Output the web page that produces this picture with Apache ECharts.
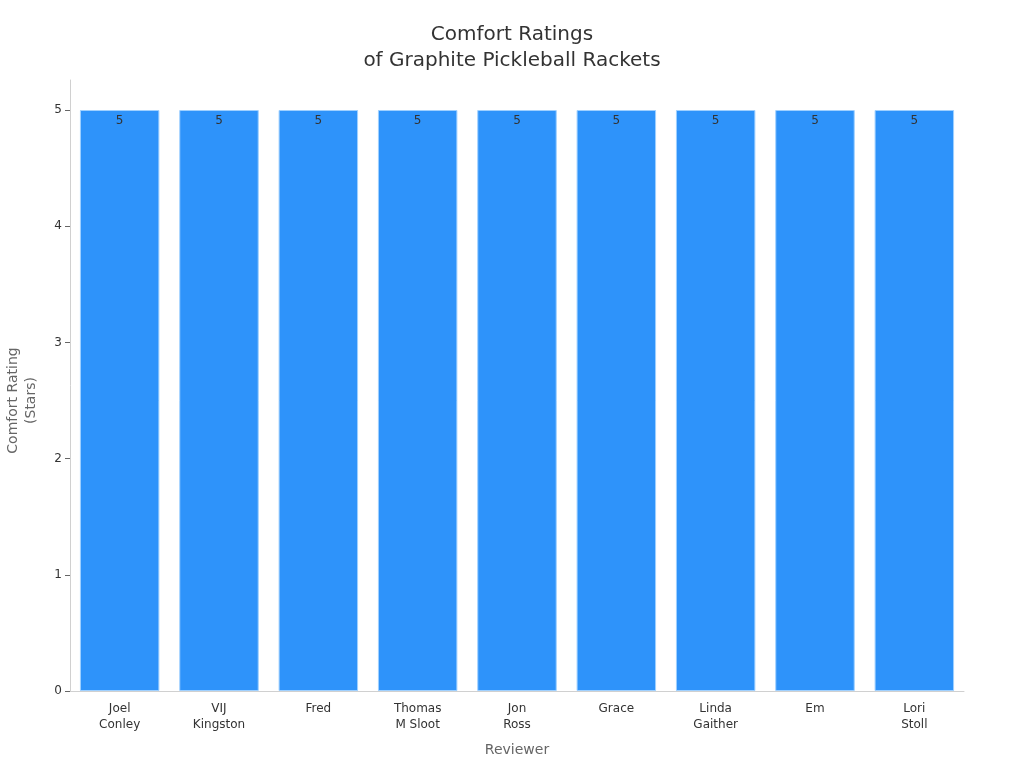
<!DOCTYPE html>
<html>
<head>
<meta charset="utf-8">
<script src="https://cdn.jsdelivr.net/npm/echarts@6/dist/echarts.min.js"></script>
<style>
  html, body { margin: 0; padding: 0; background: #fff; }
  #chart { width: 1024px; height: 768px; }
</style>
</head>
<body>
<div id="chart"></div>
<script>
// reviewers and their comfort ratings (stars)
var reviewers = ['Joel\nConley', 'VIJ\nKingston', 'Fred', 'Thomas\nM Sloot', 'Jon\nRoss', 'Grace', 'Linda\nGaither', 'Em', 'Lori\nStoll']
var ratings = [5, 5, 5, 5, 5, 5, 5, 5, 5]

var barColor = '#2E93FA'
var axisGray = '#d0d0d0'
var font = 'DejaVu Sans'

var chart = echarts.init(document.getElementById('chart'))
var option = {
  animation: false,
  textStyle: { fontFamily: font },
  title: {
    text: 'Comfort Ratings\nof Graphite Pickleball Rackets',
    left: 'center',
    top: 17,
    textStyle: { fontFamily: font, fontSize: 20, fontWeight: 'normal', color: '#333', lineHeight: 26 }
  },
  grid: [
    // main plot
    { left: 70, right: 60, top: 110, bottom: 77, outerBoundsMode: 'none', containLabel: false },
    // only here to draw the y axis line up past the top value
    { left: 70, right: 60, top: 80, bottom: 77, outerBoundsMode: 'none', containLabel: false }
  ],
  xAxis: [
    {
      gridIndex: 0,
      type: 'category',
      data: reviewers,
      name: 'Reviewer',
      nameLocation: 'middle',
      nameGap: 52,
      nameTextStyle: { color: '#666', fontSize: 14 },
      axisLine: { lineStyle: { color: axisGray } },
      axisTick: { alignWithLabel: true, length: 5, lineStyle: { color: '#666' } },
      axisLabel: { color: '#333', fontSize: 12, lineHeight: 16, margin: 10, interval: 0 }
    },
    { gridIndex: 1, type: 'value', show: false }
  ],
  yAxis: [
    {
      gridIndex: 0,
      type: 'value',
      min: 0,
      max: 5,
      interval: 1,
      name: 'Comfort Rating\n(Stars)',
      nameLocation: 'middle',
      nameGap: 30,
      nameTextStyle: { color: '#666', fontSize: 14, lineHeight: 18 },
      axisLine: { show: false },
      axisTick: { show: true, length: 5, lineStyle: { color: '#666' } },
      axisLabel: { color: '#333', fontSize: 12, margin: 8 },
      splitLine: { show: false }
    },
    {
      gridIndex: 1,
      type: 'value',
      axisLine: { show: true, lineStyle: { color: axisGray } },
      axisTick: { show: false },
      axisLabel: { show: false },
      splitLine: { show: false }
    }
  ],
  series: [
    {
      type: 'bar',
      xAxisIndex: 0,
      yAxisIndex: 0,
      data: ratings,
      barCategoryGap: '20%',
      itemStyle: { color: barColor, borderColor: '#9fd0ff', borderWidth: 1 },
      label: {
        show: true,
        position: 'insideTop',
        distance: 5,
        color: '#333',
        fontSize: 12
      }
    }
  ]
}
chart.setOption(option)
</script>
</body>
</html>
